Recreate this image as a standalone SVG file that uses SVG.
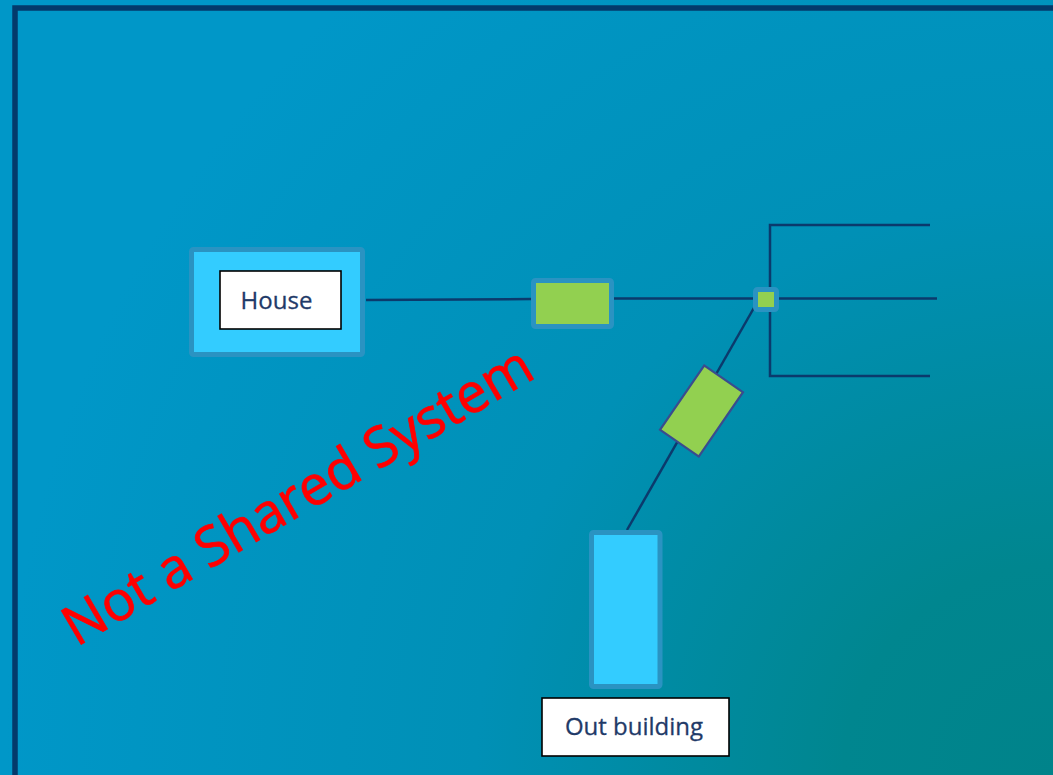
<svg xmlns="http://www.w3.org/2000/svg" width="1053" height="775" viewBox="0 0 1053 775">
  <defs>
    <radialGradient id="bg" gradientUnits="userSpaceOnUse" cx="1053" cy="775" r="1050">
      <stop offset="0" stop-color="#00838A"/>
      <stop offset="0.2" stop-color="#00868F"/>
      <stop offset="0.55" stop-color="#0090B6"/>
      <stop offset="1" stop-color="#0097C8"/>
    </radialGradient>
    <style>
      .wire { stroke: #0B3A6C; stroke-width: 2.5; fill: none; }
      .bldg { fill: #33CCFF; stroke: #2A93C2; stroke-width: 5; }
      .valve { fill: #92D050; stroke: #2A93C2; stroke-width: 5; }
      .label { fill: #FFFFFF; stroke: #000000; stroke-width: 1.6; }
      .ltext { font-family: "Open Sans", "Noto Sans", sans-serif; font-size: 24px; fill: #1F3A68; text-anchor: middle; stroke: #1F3A68; stroke-width: 0.3; }
      .warn { font-family: "Open Sans", "Noto Sans", sans-serif; font-size: 55px; fill: #FF0000; text-anchor: middle; stroke: #FF0000; stroke-width: 0.8; }
    </style>
  </defs>

  <rect x="0" y="0" width="1053" height="775" fill="url(#bg)"/>
  <rect x="15" y="8" width="1060" height="800" fill="none" stroke="#033A6B" stroke-width="5.5"/>

  <g id="connectors">
    <line class="wire" x1="366" y1="300" x2="532" y2="299"/>
    <line class="wire" x1="613" y1="298.5" x2="755" y2="298.5"/>
    <line class="wire" x1="778" y1="298.5" x2="937" y2="298.5"/>
    <polyline class="wire" points="930,225 770,225 770,376 930,376"/>
    <line class="wire" x1="755" y1="306" x2="627" y2="530"/>
  </g>

  <g id="house">
    <rect class="bldg" x="191.5" y="249.5" width="171" height="105" rx="2"/>
    <rect class="label" x="220" y="271" width="121" height="58"/>
    <text class="ltext" x="276.5" y="309">House</text>
  </g>

  <g id="valve1">
    <rect class="valve" x="533.5" y="280.5" width="78" height="46" rx="2"/>
  </g>

  <g id="junction">
    <rect class="valve" x="755.5" y="289.5" width="21" height="20" rx="2"/>
  </g>

  <g id="valve2">
    <rect x="678" y="372" width="47" height="78" fill="#92D050" stroke="#3A4C8E" stroke-width="2.2" transform="rotate(34.5 701.5 411)"/>
  </g>

  <g id="outbuilding">
    <rect class="bldg" x="591.5" y="532.5" width="68.5" height="154" rx="2"/>
    <rect class="label" x="542" y="698" width="187" height="58"/>
    <text class="ltext" x="634" y="735">Out building</text>
  </g>

  <text class="warn" x="307" y="512" transform="rotate(-30.4 307 512)">Not a Shared System</text>
</svg>
